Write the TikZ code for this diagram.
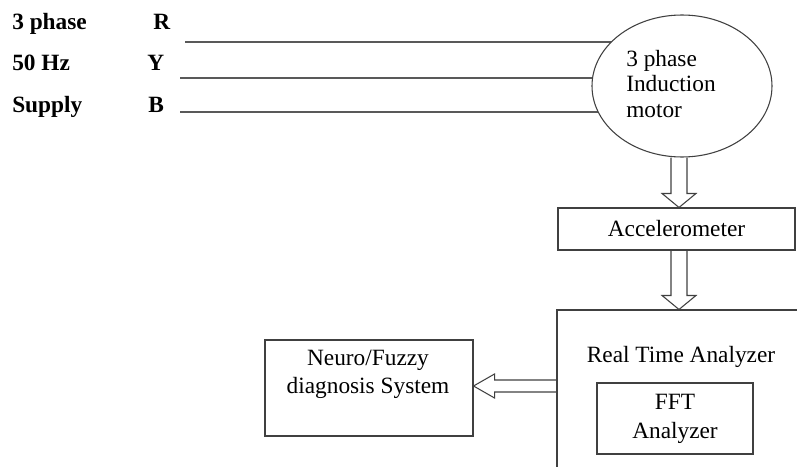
\documentclass[tikz,border=0pt]{standalone}
\usepackage{fontspec}
\setmainfont{Liberation Serif}
\usetikzlibrary{calc, positioning, shapes.geometric, backgrounds}

\tikzset{
  lbl/.style={font=\fontsize{17.5}{21}\selectfont\bfseries, inner sep=0pt,
              anchor=base west},
  txt/.style={font=\fontsize{17.5}{21}\selectfont, align=center, inner sep=0pt},
  blk/.style={draw=black!75, line width=0.8pt, txt},
  wire/.style={draw=black!65, line width=1pt},
  hollow/.style={draw=black!75, line width=0.8pt},
  hollowdown/.style={to path={let \p1=(\tikztostart), \p2=(\tikztotarget) in
    (\x2-6pt,\y1) -- (\x2-6pt,\y2+10.5pt) -- (\x2-12.75pt,\y2+10.5pt) -- (\x2,\y2)
    -- (\x2+12.75pt,\y2+10.5pt) -- (\x2+6pt,\y2+10.5pt) -- (\x2+6pt,\y1)}},
  hollowleft/.style={to path={let \p1=(\tikztostart), \p2=(\tikztotarget) in
    (\x1,\y2+4.5pt) -- (\x2+15.75pt,\y2+4.5pt) -- (\x2+15.75pt,\y2+9pt) -- (\x2,\y2)
    -- (\x2+15.75pt,\y2-9pt) -- (\x2+15.75pt,\y2-4.5pt) -- (\x1,\y2-4.5pt)}}
}

\begin{document}
\begin{tikzpicture}[x=0.75pt, y=-0.75pt]
  \path[use as bounding box, clip] (0,0) rectangle (797,467);

  % supply side
  \node[lbl] (ph)  at (12,30)  {3 phase};
  \node[lbl] (hz)  at (12,71)  {50 Hz};
  \node[lbl] (sup) at (12,113) {Supply};
  \node[lbl] (pr)  at (153,30) {R};
  \node[lbl] (py)  at (147,71) {Y};
  \node[lbl] (pb)  at (148,113) {B};

  \node[blk, ellipse, fill=white, minimum width=135pt, minimum height=106.5pt]
        (motor) at (682,86) {};
  \node[txt, align=left, anchor=west, font=\fontsize{17.5}{19}\selectfont]
        (motortxt) at (626,84) {3 phase\\Induction\\motor};

  \coordinate (rs) at (185,42);
  \coordinate (ys) at (180,78);
  \coordinate (bs) at (180,112);
  \begin{scope}[on background layer]
    \draw[wire] (rs) -- (rs -| motor.center);
    \draw[wire] (ys) -- (ys -| motor.center);
    \draw[wire] (bs) -- (bs -| motor.center);
  \end{scope}

  % measuring chain
  \node[blk, minimum width=177.75pt, minimum height=31.5pt] (accel) at (676.5,229)
        {Accelerometer};
  \node[blk, minimum width=186pt, minimum height=123.75pt] (rta) at (681,392.5) {};
  \node[txt] (rtatxt) at (681,357) {Real Time Analyzer};
  \node[blk, minimum width=117pt, minimum height=53.25pt,
        font=\fontsize{17.5}{21.75}\selectfont] (fft) at (675,418.5) {FFT\\Analyzer};

  \node[blk, minimum width=156pt, minimum height=72pt] (neuro) at (369,388) {};
  \node[txt] (neurotxt) at (368,374) {Neuro/Fuzzy\\diagnosis System};

  \coordinate (ax) at (679,0);
  \coordinate (ay) at (0,386);
  \draw[hollow, hollowdown] (motor.south -| ax) to (accel.north -| ax);
  \draw[hollow, hollowdown] (accel.south -| ax) to (rta.north -| ax);
  \draw[hollow, hollowleft] (rta.west |- ay) to (neuro.east |- ay);
\end{tikzpicture}
\end{document}
